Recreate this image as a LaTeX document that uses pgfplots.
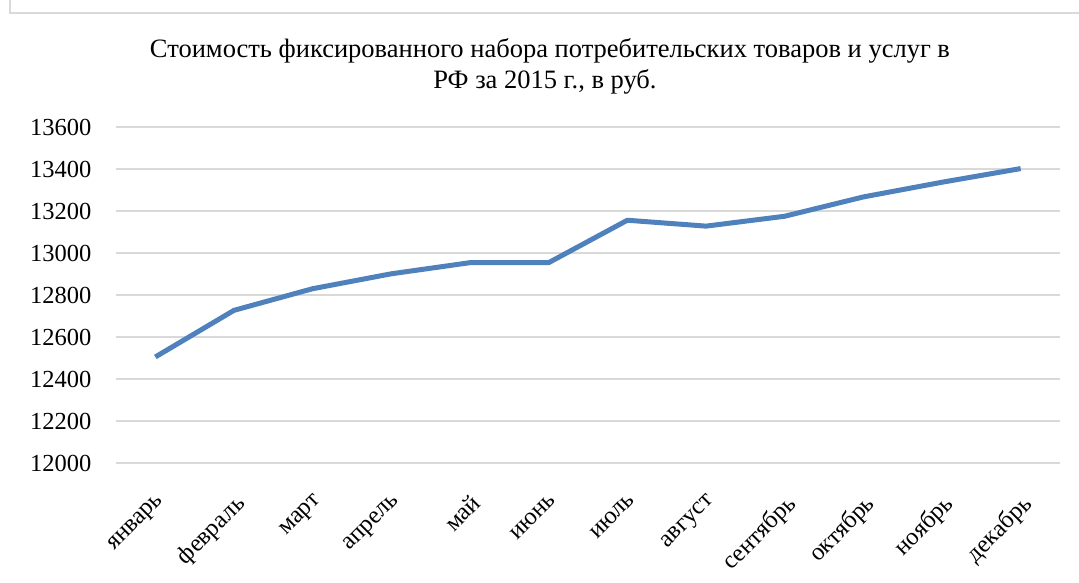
\documentclass[border=0pt]{standalone}
\usepackage{fontspec}
\setmainfont{Liberation Serif}
\usepackage{pgfplots}
\pgfplotsset{compat=1.18}

\definecolor{lineblue}{RGB}{79,129,189}
\definecolor{gridgray}{RGB}{217,217,217}
\definecolor{framegray}{RGB}{217,217,217}

\begin{document}
\begin{tikzpicture}[x=1pt,y=1pt]
\useasboundingbox (0,0) rectangle (1079,582);
% chart frame (only top and left edges are visible)
\draw[framegray, line width=1.5pt] (10,582) -- (10,569) -- (1079,569);

\node[anchor=base, font=\fontsize{26.5}{31}\selectfont, inner sep=0pt] at (550,524)
  {Стоимость фиксированного набора потребительских товаров и услуг в};
\node[anchor=base, font=\fontsize{26.5}{31}\selectfont, inner sep=0pt] at (545,493)
  {РФ за 2015 г., в руб.};

\begin{axis}[
    at={(116pt,119pt)}, anchor=south west,
    scale only axis,
    width=944pt, height=336pt,
    xmin=-0.5, xmax=11.5,
    ymin=12000, ymax=13600,
    ytick={12000,12200,...,13600},
    xtick={0,...,11},
    xticklabels={январь,февраль,март,апрель,май,июнь,июль,август,сентябрь,октябрь,ноябрь,декабрь},
    axis line style={draw=none},
    tick style={draw=none},
    ymajorgrids,
    grid style={gridgray, line width=1.5pt},
    scaled y ticks=false,
    /pgf/number format/assume math mode=true,
    /pgf/number format/set thousands separator={},
    yticklabel style={font=\fontsize{24.5}{28}\selectfont, xshift=-21pt},
    xticklabel style={font=\fontsize{24.5}{28}\selectfont, anchor=north east, xshift=0pt, yshift=-25pt, rotate=45},
]
\addplot[lineblue, line width=5pt, line join=round] coordinates {
    (0,12505) (1,12727) (2,12830) (3,12901) (4,12954) (5,12954)
    (6,13156) (7,13128) (8,13175) (9,13267) (10,13337) (11,13402)
};
\end{axis}
\end{tikzpicture}
\end{document}
